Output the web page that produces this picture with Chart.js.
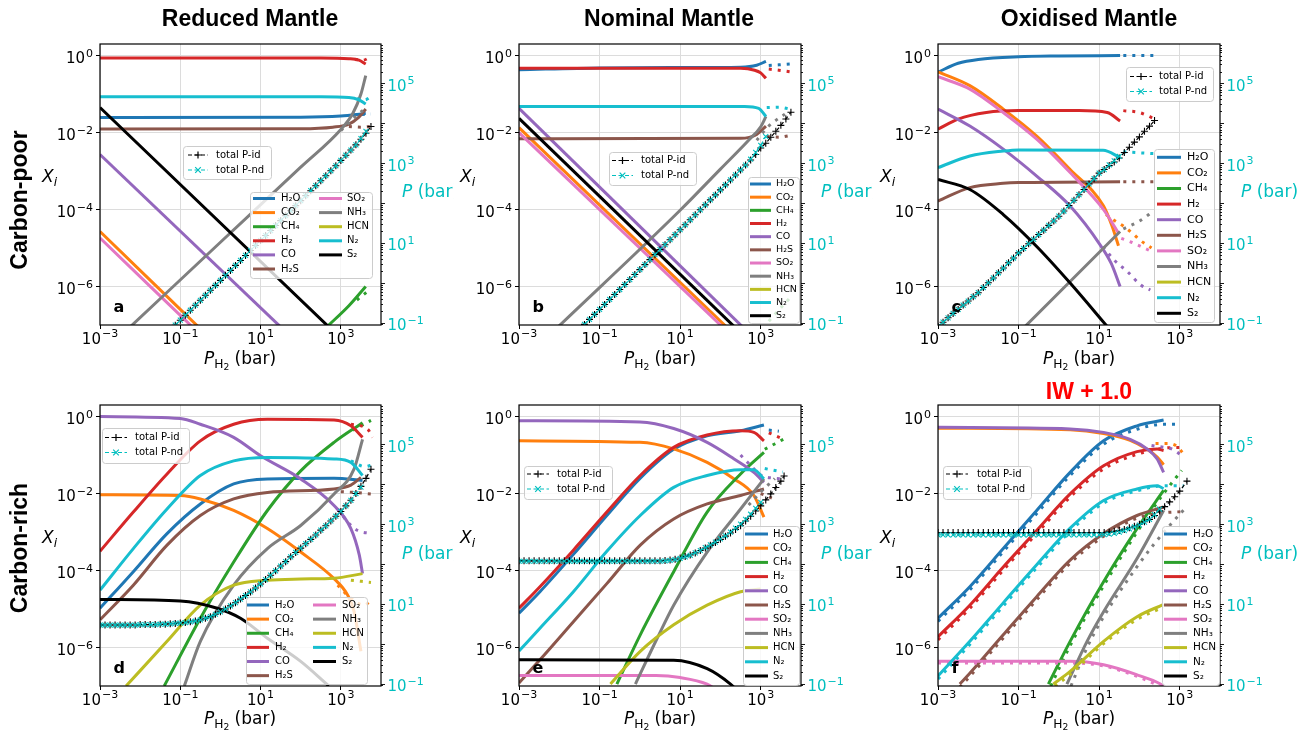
<!DOCTYPE html>
<html>
<head>
<meta charset="utf-8">
<title>Speciation vs P_H2</title>
<script src="https://cdn.jsdelivr.net/npm/chart.js@4.4.1/dist/chart.umd.min.js"></script>
<style>
html,body{margin:0;padding:0;background:#fff;}
#root{position:relative;width:1313px;height:735px;overflow:hidden;background:#fff;font-family:'DejaVu Sans',sans-serif;color:#000;}
.panel{position:absolute;overflow:hidden;}
.panel canvas{position:absolute;left:0;top:0;}
.t{position:absolute;white-space:nowrap;line-height:1;}
.title{font-family:'Liberation Sans',Arial,sans-serif;font-weight:bold;font-size:23px;transform:translateX(-50%);}
.row{font-family:'Liberation Sans',Arial,sans-serif;font-weight:bold;font-size:23px;transform:translate(-50%,-50%) rotate(-90deg);}
.lab{font-size:17px;font-family:'DejaVu Sans',sans-serif;}
.xl{transform:translateX(-50%);}
.sub{font-size:72%;position:relative;top:0.32em;}
.sub2{font-size:75%;position:relative;top:0.2em;}
.pbar{color:#00bfbf;}
</style>
</head>
<body>
<div id="root"></div>
<script>
// ---------------- axis ranges and ticks ----------------
const xRange = [1e-3, 1e4];
const yRange = [1e-7, 2];
const pRange = [0.087, 9.8e5];
const xTicks = [1e-3, 1e-1, 1e1, 1e3];
const xTickExps = ['−3', '−1', '1', '3'];
const yTicks = [1e-6, 1e-4, 1e-2, 1];
const yTickExps = ['−6', '−4', '−2', '0'];
const pTicks = [1e-1, 1e1, 1e3, 1e5];
const pTickExps = ['−1', '1', '3', '5'];

const species = ['H₂O', 'CO₂', 'CH₄', 'H₂', 'CO', 'H₂S', 'SO₂', 'NH₃', 'HCN', 'N₂', 'S₂'];
const speciesColors = ['#1f77b4', '#ff7f0e', '#2ca02c', '#d62728', '#9467bd', '#8c564b', '#e377c2', '#7f7f7f', '#bcbd22', '#17becf', '#000000'];
const totalLabels = ['total P-id', 'total P-nd'];
const totalColors = ['#000000', '#00bfbf'];
const columnTitles = ['Reduced Mantle', 'Nominal Mantle', 'Oxidised Mantle'];
const rowTitles = ['Carbon-poor', 'Carbon-rich'];
const panelLetters = ['a', 'b', 'c', 'd', 'e', 'f'];
const extraTitle = 'IW + 1.0';

// ---------------- data: [log10 P_H2, log10 X_i] ----------------
// panel a : carbon-poor, reduced
const a_H2O = [[-3,-1.61],[2,-1.6],[3,-1.57],[3.4,-1.53],[3.62,-1.5]];
const a_CO2 = [[-3,-4.57],[-0.4,-7.2]];
const a_CH4 = [[2.65,-7.05],[3.2,-6.5],[3.62,-6.0]];
const a_H2 = [[-3,-0.06],[2.5,-0.06],[3.2,-0.08],[3.45,-0.12],[3.62,-0.22]];
const a_CO = [[-3,-2.57],[1.6,-7.15]];
const a_H2S = [[-3,-1.91],[2,-1.9],[2.8,-1.86],[3.2,-1.78],[3.45,-1.6],[3.62,-1.39]];
const a_SO2 = [[-3,-4.74],[-0.6,-7.15]];
const a_NH3 = [[-2.3,-7.1],[0,-4.85],[2,-2.9],[3,-1.92],[3.3,-1.5],[3.5,-1.0],[3.62,-0.52]];
const a_HCN = [];
const a_N2 = [[-3,-1.07],[2.5,-1.07],[3.2,-1.09],[3.45,-1.15],[3.62,-1.26]];
const a_S2 = [[-3,-1.35],[2.7,-7.05]];
const a_H2O_nd = [[3.3,-1.55],[3.5,-1.53],[3.75,-1.52]];
const a_CH4_nd = [[3.4,-6.35],[3.7,-6.1]];
const a_H2_nd = [[3.35,-0.1],[3.55,-0.12],[3.72,-0.05]];
const a_H2S_nd = [[3.2,-1.84],[3.5,-1.86],[3.75,-1.84]];
const a_NH3_nd = [[3.0,-1.95],[3.35,-1.6],[3.6,-1.38]];
const a_N2_nd = [[3.4,-1.12],[3.6,-1.15],[3.75,-1.07]];
const a_Px = [-1.25,-1.125,-1,-0.875,-0.75,-0.625,-0.5,-0.375,-0.25,-0.125,0,0.125,0.25,0.375,0.5,0.625,0.75,0.875,1,1.125,1.25,1.375,1.5,1.625,1.75,1.875,2,2.125,2.25,2.375,2.5,2.625,2.75,2.875,3,3.125,3.25,3.375,3.5,3.625,3.75];
const a_Pid = [-1.19,-1.065,-0.94,-0.815,-0.69,-0.565,-0.44,-0.315,-0.19,-0.065,0.06,0.185,0.31,0.435,0.56,0.685,0.81,0.935,1.06,1.185,1.31,1.435,1.56,1.685,1.81,1.935,2.06,2.185,2.31,2.435,2.56,2.685,2.81,2.935,3.07,3.2,3.33,3.46,3.6,3.75,3.92];
const a_Pnd = [-1.19,-1.065,-0.94,-0.815,-0.69,-0.565,-0.44,-0.315,-0.19,-0.065,0.06,0.185,0.31,0.435,0.56,0.685,0.81,0.935,1.06,1.185,1.31,1.435,1.56,1.685,1.81,1.935,2.06,2.185,2.31,2.435,2.56,2.685,2.81,2.935,3.07,3.2,3.33,3.46,3.62,3.8];

// panel b : carbon-poor, nominal
const b_H2O = [[-3,-0.37],[-1,-0.32],[1,-0.31],[2.5,-0.3],[2.9,-0.25],[3.13,-0.15]];
const b_CO2 = [[-3,-1.87],[2.2,-7.1]];
const b_CH4 = [];
const b_H2 = [[-3,-0.33],[2.5,-0.33],[2.85,-0.38],[3.0,-0.45],[3.13,-0.59]];
const b_CO = [[-3,-1.37],[2.6,-7.1]];
const b_H2S = [[-3,-2.16],[2.5,-2.15],[2.9,-2.05],[3.13,-1.83]];
const b_SO2 = [[-3,-2.0],[2.1,-7.1]];
const b_NH3 = [[-2.05,-7.07],[1,-4.02],[2,-2.95],[2.7,-2.2],[3.0,-1.85],[3.13,-1.58]];
const b_HCN = [];
const b_N2 = [[-3,-1.32],[2.6,-1.32],[2.95,-1.37],[3.13,-1.58]];
const b_S2 = [[-3,-1.63],[2.4,-7.1]];
const b_H2O_nd = [[3.2,-0.26],[3.45,-0.24],[3.72,-0.22]];
const b_H2_nd = [[3.2,-0.35],[3.45,-0.38],[3.72,-0.42]];
const b_N2_nd = [[3.15,-1.35],[3.45,-1.34],[3.72,-1.39]];
const b_H2S_nd = [[3.15,-2.1],[3.45,-2.12],[3.72,-2.08]];
const b_NH3_nd = [[2.9,-2.2],[3.2,-1.83],[3.6,-1.52]];
const b_CH4_nd = [[3.2,-6.9],[3.72,-6.3]];
const b_Px = [-1.5,-1.375,-1.25,-1.125,-1,-0.875,-0.75,-0.625,-0.5,-0.375,-0.25,-0.125,0,0.125,0.25,0.375,0.5,0.625,0.75,0.875,1,1.125,1.25,1.375,1.5,1.625,1.75,1.875,2,2.125,2.25,2.375,2.5,2.625,2.75,2.875,3,3.125,3.25,3.375,3.5,3.625,3.75];
const b_Pid = [-1.17,-1.045,-0.92,-0.795,-0.67,-0.545,-0.42,-0.295,-0.17,-0.045,0.08,0.205,0.33,0.455,0.58,0.705,0.83,0.955,1.08,1.205,1.33,1.455,1.58,1.705,1.83,1.955,2.08,2.205,2.33,2.455,2.58,2.705,2.83,2.955,3.08,3.22,3.38,3.5,3.65,3.8,3.95,4.11,4.28];
const b_Pnd = [-1.17,-1.045,-0.92,-0.795,-0.67,-0.545,-0.42,-0.295,-0.17,-0.045,0.08,0.205,0.33,0.455,0.58,0.705,0.83,0.955,1.08,1.205,1.33,1.455,1.58,1.705,1.83,1.955,2.08,2.205,2.33,2.455,2.58,2.705,2.83,2.955,3.1,3.27,3.45,3.67];

// panel c : carbon-poor, oxidised
const c_H2O = [[-3,-0.43],[-2.5,-0.2],[-2,-0.1],[-1,-0.03],[0,-0.01],[1.52,0]];
const c_CO2 = [[-3,-0.42],[-2.21,-0.78],[-1.38,-1.39],[-0.55,-2.09],[0.28,-2.96],[1.11,-3.91],[1.32,-4.43],[1.48,-4.94]];
const c_CH4 = [];
const c_H2 = [[-3,-1.91],[-2.5,-1.65],[-1.8,-1.48],[-1,-1.43],[0.5,-1.43],[1.2,-1.48],[1.52,-1.7]];
const c_CO = [[-3,-1.39],[-2.21,-1.83],[-1.38,-2.43],[-0.55,-3.13],[0.28,-3.91],[1.02,-4.91],[1.3,-5.4],[1.52,-6.0]];
const c_H2S = [[-3,-3.78],[-2.21,-3.43],[-1.38,-3.32],[-1,-3.3],[1.52,-3.28]];
const c_SO2 = [[-3,-0.55],[-2.21,-0.87],[-1.38,-1.48],[-0.55,-2.17],[0.28,-3.04],[1.11,-4.0],[1.48,-4.61]];
const c_NH3 = [[-0.85,-7.05],[1.52,-4.57]];
const c_HCN = [];
const c_N2 = [[-3,-2.91],[-2.21,-2.61],[-1.38,-2.48],[-1,-2.45],[1.1,-2.46],[1.52,-2.65]];
const c_S2 = [[-3,-3.22],[-2.21,-3.48],[-1.38,-4.13],[-0.55,-4.96],[0.28,-5.91],[1.25,-7.1]];
const c_H2O_nd = [[1.6,0],[2.4,0]];
const c_CO2_nd = [[1.17,-4.13],[1.4,-4.3],[1.6,-4.43],[1.82,-4.61],[2.02,-4.8],[2.3,-5.0]];
const c_H2_nd = [[1.6,-1.43],[2.0,-1.48],[2.39,-1.65]];
const c_CO_nd = [[1.1,-4.96],[1.36,-5.3],[1.7,-5.61],[2.03,-5.96],[2.27,-6.09]];
const c_H2S_nd = [[1.6,-3.28],[2.39,-3.28]];
const c_SO2_nd = [[1.55,-4.75],[1.8,-4.85],[2.3,-5.09]];
const c_NH3_nd = [[1.6,-4.5],[2.0,-4.3],[2.35,-4.04]];
const c_N2_nd = [[1.6,-2.5],[2.39,-2.55]];
const c_Px = [-3,-2.875,-2.75,-2.625,-2.5,-2.375,-2.25,-2.125,-2,-1.875,-1.75,-1.625,-1.5,-1.375,-1.25,-1.125,-1,-0.875,-0.75,-0.625,-0.5,-0.375,-0.25,-0.125,0,0.125,0.25,0.375,0.5,0.625,0.75,0.875,1,1.125,1.25,1.375,1.5,1.625,1.75,1.875,2,2.125,2.25,2.375];
const c_Pid = [-1.1,-0.99,-0.88,-0.77,-0.67,-0.56,-0.46,-0.35,-0.25,-0.12,0,0.12,0.25,0.37,0.5,0.62,0.75,0.86,0.98,1.09,1.21,1.32,1.44,1.55,1.67,1.8,1.94,2.07,2.21,2.34,2.48,2.61,2.75,2.84,2.94,3.03,3.13,3.27,3.4,3.53,3.66,3.8,3.93,4.07];
const c_Pnd = [-1.1,-0.99,-0.88,-0.77,-0.67,-0.56,-0.46,-0.35,-0.25,-0.12,0,0.12,0.25,0.37,0.5,0.62,0.75,0.86,0.98,1.09,1.21,1.32,1.44,1.55,1.67,1.8,1.94,2.07,2.21,2.34,2.48,2.61,2.75,2.84,2.96,3.06,3.17];

// panel d : carbon-rich, reduced
const d_H2O = [[-3,-4.98],[-2.17,-4.03],[-1.33,-3.04],[-0.5,-2.27],[0.33,-1.75],[1.17,-1.62],[2.83,-1.6],[3.54,-1.66]];
const d_CO2 = [[-3,-2.03],[-1,-2.05],[-0.5,-2.14],[0.33,-2.44],[1.17,-2.91],[2.0,-3.52],[2.83,-4.21],[3.17,-4.64],[3.33,-5.07],[3.5,-6.1]];
const d_CH4 = [[-1.4,-7.0],[-0.5,-5.24],[0.33,-3.78],[1.17,-2.44],[2.0,-1.41],[2.83,-0.67],[3.54,-0.16]];
const d_H2 = [[-3,-3.5],[-2.17,-2.48],[-1.33,-1.49],[-0.5,-0.63],[0.33,-0.2],[1.17,-0.07],[2.83,-0.09],[3.25,-0.24],[3.54,-0.54]];
const d_CO = [[-3,0],[-1,-0.05],[-0.5,-0.2],[0.33,-0.54],[1,-1.02],[2,-1.62],[2.83,-2.31],[3.25,-2.91],[3.46,-3.6],[3.54,-4.08]];
const d_H2S = [[-3,-5.28],[-2.17,-4.38],[-1.33,-3.34],[-0.5,-2.57],[0.33,-2.14],[1.17,-1.97],[2.83,-1.88],[3.25,-1.78],[3.5,-1.58]];
const d_SO2 = [];
const d_NH3 = [[-0.9,-7.0],[-0.5,-5.84],[0.33,-4.38],[1.17,-3.43],[2.0,-2.83],[2.83,-2.01],[3.33,-1.36],[3.54,-0.59]];
const d_HCN = [[-2.35,-7.0],[-1.33,-5.84],[-0.5,-4.9],[0.33,-4.38],[1.17,-4.25],[2.0,-4.22],[2.83,-4.2],[3.54,-4.08]];
const d_N2 = [[-3,-4.51],[-2.17,-3.43],[-1.33,-2.4],[-0.5,-1.53],[0.33,-1.15],[1.17,-1.06],[2.83,-1.1],[3.25,-1.19],[3.54,-1.53]];
const d_S2 = [[-3,-4.75],[-1,-4.79],[-0.08,-4.98],[0.5,-5.24],[1.17,-5.76],[2.0,-6.36],[2.7,-7.0]];
const d_CO_nd = [[2.92,-2.4],[3.17,-2.74],[3.42,-2.96],[3.79,-3.04]];
const d_H2_nd = [[3.25,-0.2],[3.67,-0.33],[3.79,-0.54]];
const d_N2_nd = [[3.25,-1.15],[3.6,-1.3],[3.79,-1.25]];
const d_H2S_nd = [[3.0,-1.95],[3.33,-1.97],[3.75,-2.01]];
const d_CO2_nd = [[2.92,-4.38],[3.25,-4.72],[3.58,-4.9],[3.79,-4.72]];
const d_HCN_nd = [[3.25,-4.25],[3.75,-4.31]];
const d_CH4_nd = [[3.3,-0.35],[3.75,-0.1]];
const d_Px = [-3,-2.875,-2.75,-2.625,-2.5,-2.375,-2.25,-2.125,-2,-1.875,-1.75,-1.625,-1.5,-1.375,-1.25,-1.125,-1,-0.875,-0.75,-0.625,-0.5,-0.375,-0.25,-0.125,0,0.125,0.25,0.375,0.5,0.625,0.75,0.875,1,1.125,1.25,1.375,1.5,1.625,1.75,1.875,2,2.125,2.25,2.375,2.5,2.625,2.75,2.875,3,3.125,3.25,3.375,3.5,3.625,3.75];
const d_Pid = [0.47,0.47,0.47,0.47,0.47,0.47,0.47,0.47,0.48,0.48,0.48,0.48,0.49,0.49,0.5,0.51,0.52,0.53,0.55,0.57,0.6,0.64,0.68,0.74,0.8,0.87,0.95,1.03,1.12,1.21,1.3,1.4,1.5,1.61,1.72,1.83,1.95,2.06,2.18,2.29,2.4,2.51,2.62,2.73,2.85,2.96,3.08,3.2,3.32,3.46,3.6,3.77,3.95,4.15,4.38];
const d_Pnd = [0.47,0.47,0.47,0.47,0.47,0.47,0.47,0.47,0.48,0.48,0.48,0.48,0.49,0.49,0.5,0.51,0.52,0.53,0.55,0.57,0.6,0.64,0.68,0.74,0.8,0.87,0.95,1.03,1.12,1.21,1.3,1.4,1.5,1.61,1.72,1.83,1.95,2.06,2.18,2.29,2.4,2.51,2.62,2.73,2.85,2.96,3.08,3.2,3.32,3.46,3.6,3.77,3.93];

// panel e : carbon-rich, nominal
const e_H2O = [[-3,-5.11],[-2.48,-4.55],[-1.65,-3.58],[-0.82,-2.57],[0.01,-1.6],[0.84,-0.85],[1.67,-0.5],[2.5,-0.37],[3.08,-0.22]];
const e_CO2 = [[-3,-0.63],[0,-0.67],[0.84,-0.84],[1.67,-1.19],[2.34,-1.62],[2.83,-2.05],[3.08,-2.61]];
const e_CH4 = [[-0.57,-6.95],[0.01,-5.67],[0.84,-4.03],[1.67,-2.48],[2.5,-1.49],[3.08,-0.93]];
const e_H2 = [[-3,-4.98],[-2.48,-4.42],[-1.65,-3.47],[-0.82,-2.48],[0.01,-1.53],[0.84,-0.8],[1.67,-0.48],[2.5,-0.37],[2.83,-0.41],[3.08,-0.63]];
const e_CO = [[-3,-0.11],[0,-0.14],[0.84,-0.31],[1.67,-0.67],[2.34,-1.1],[2.83,-1.45],[3.08,-1.71]];
const e_H2S = [[-3,-6.92],[-2.48,-6.32],[-1.65,-5.33],[-0.82,-4.34],[0.01,-3.34],[0.84,-2.66],[1.67,-2.27],[2.5,-2.05],[3.08,-1.88]];
const e_SO2 = [[-3,-6.73],[0.4,-6.73],[1.0,-6.78],[1.67,-6.95],[1.9,-7.1]];
const e_NH3 = [[-0.11,-6.95],[0.43,-5.76],[0.84,-4.9],[1.67,-3.52],[2.5,-2.4],[3.08,-1.62]];
const e_HCN = [[-0.73,-6.95],[0.01,-6.1],[0.84,-5.41],[1.67,-4.9],[2.5,-4.55],[3.0,-4.48]];
const e_N2 = [[-3,-6.09],[-2.48,-5.5],[-1.65,-4.55],[-0.82,-3.5],[0.01,-2.57],[0.84,-1.84],[1.67,-1.53],[2.5,-1.38],[2.83,-1.38],[3.08,-1.62]];
const e_S2 = [[-3,-6.32],[0.84,-6.33],[1.67,-6.55],[2.25,-6.95],[2.4,-7.1]];
const e_CO_nd = [[2.5,-1.0],[2.75,-1.27],[3.0,-1.52],[3.3,-1.6],[3.55,-1.62]];
const e_H2_nd = [[3.2,-0.42],[3.55,-0.58]];
const e_H2O_nd = [[3.2,-0.35],[3.45,-0.38]];
const e_N2_nd = [[3.1,-1.35],[3.55,-1.44]];
const e_H2S_nd = [[3.0,-2.0],[3.4,-2.17]];
const e_CH4_nd = [[3.1,-0.85],[3.58,-0.58]];
const e_NH3_nd = [[2.7,-2.3],[3.0,-1.96],[3.35,-1.61]];
const e_Px = [-3,-2.875,-2.75,-2.625,-2.5,-2.375,-2.25,-2.125,-2,-1.875,-1.75,-1.625,-1.5,-1.375,-1.25,-1.125,-1,-0.875,-0.75,-0.625,-0.5,-0.375,-0.25,-0.125,0,0.125,0.25,0.375,0.5,0.625,0.75,0.875,1,1.125,1.25,1.375,1.5,1.625,1.75,1.875,2,2.125,2.25,2.375,2.5,2.625,2.75,2.875,3,3.125,3.25,3.375,3.5,3.58];
const e_Pid = [2.08,2.08,2.08,2.08,2.08,2.08,2.08,2.08,2.08,2.08,2.08,2.08,2.08,2.08,2.08,2.08,2.08,2.08,2.08,2.08,2.08,2.08,2.08,2.08,2.08,2.08,2.08,2.08,2.08,2.09,2.1,2.12,2.15,2.19,2.23,2.28,2.34,2.4,2.47,2.54,2.62,2.7,2.78,2.87,2.96,3.08,3.2,3.33,3.46,3.61,3.76,3.92,4.08,4.21];
const e_Pnd = [2.07,2.07,2.07,2.07,2.07,2.07,2.07,2.07,2.07,2.07,2.07,2.07,2.07,2.07,2.07,2.07,2.07,2.07,2.07,2.07,2.07,2.07,2.07,2.07,2.07,2.07,2.07,2.07,2.07,2.08,2.09,2.11,2.14,2.18,2.22,2.28,2.34,2.41,2.48,2.55,2.63,2.71,2.8,2.9,3.0,3.12,3.25,3.4,3.55];

// panel f : carbon-rich, oxidised
const f_H2O = [[-3,-5.24],[-2.21,-4.42],[-1.38,-3.43],[-0.55,-2.44],[0.28,-1.45],[1.11,-0.63],[1.94,-0.24],[2.6,-0.09]];
const f_CO2 = [[-3,-0.3],[0.28,-0.34],[1.11,-0.44],[1.77,-0.62],[2.19,-0.85],[2.44,-1.05],[2.6,-1.25]];
const f_CH4 = [[-0.26,-6.95],[0.28,-5.84],[1.11,-4.29],[1.94,-2.91],[2.6,-1.92]];
const f_H2 = [[-3,-5.72],[-2.21,-4.9],[-1.38,-3.91],[-0.55,-2.96],[0.28,-2.01],[1.11,-1.28],[1.94,-0.91],[2.44,-0.84],[2.6,-0.88]];
const f_CO = [[-3,-0.28],[0.28,-0.32],[1.11,-0.41],[1.77,-0.59],[2.19,-0.84],[2.44,-1.1],[2.6,-1.45]];
const f_H2S = [[-2.46,-6.95],[-2.21,-6.67],[-1.38,-5.67],[-0.55,-4.68],[0.28,-3.73],[1.11,-3.04],[1.94,-2.57],[2.6,-2.35]];
const f_SO2 = [[-3,-6.36],[0.28,-6.36],[1.11,-6.45],[1.94,-6.71],[2.52,-6.95],[2.7,-7.1]];
const f_NH3 = [[0.2,-6.95],[0.7,-5.84],[1.11,-5.07],[1.94,-3.69],[2.6,-2.44]];
const f_HCN = [[-0.14,-6.95],[0.28,-6.62],[1.11,-5.84],[1.94,-5.2],[2.6,-4.88]];
const f_N2 = [[-3,-6.74],[-2.21,-5.84],[-1.38,-4.84],[-0.55,-3.85],[0.28,-2.9],[1.11,-2.18],[1.94,-1.88],[2.44,-1.8],[2.6,-1.87]];
const f_S2 = [];
const f_H2O_nd = [[-3,-5.32],[-2.21,-4.5],[-1.38,-3.51],[-0.55,-2.52],[0.28,-1.53],[1.11,-0.72],[1.94,-0.33],[2.6,-0.2],[3.02,-0.2]];
const f_CO2_nd = [[2.4,-0.7],[2.7,-0.7],[2.9,-0.75],[3.1,-0.97]];
const f_CH4_nd = [[-0.2,-7.0],[0.28,-5.95],[1.11,-4.4],[1.94,-3.0],[2.6,-2.0],[3.05,-1.4]];
const f_H2_nd = [[-3,-5.8],[-2.21,-4.98],[-1.38,-3.99],[-0.55,-3.04],[0.28,-2.09],[1.11,-1.36],[1.94,-0.98],[2.6,-0.82],[3.05,-0.8]];
const f_CO_nd = [[2.3,-0.75],[2.6,-0.8],[2.8,-0.84],[3.1,-1.05]];
const f_H2S_nd = [[-2.46,-7.03],[-2.21,-6.75],[-1.38,-5.75],[-0.55,-4.76],[0.28,-3.81],[1.11,-3.11],[1.94,-2.64],[2.6,-2.5],[3.05,-2.47]];
const f_SO2_nd = [[-3,-6.4],[0.28,-6.4],[1.11,-6.48],[1.94,-6.75],[2.5,-7.0]];
const f_NH3_nd = [[0.3,-7.0],[0.7,-6.0],[1.11,-5.2],[1.94,-3.9],[2.35,-3.33],[2.76,-2.82],[3.13,-2.39]];
const f_HCN_nd = [[-0.1,-7.0],[0.28,-6.7],[1.11,-5.9],[1.94,-5.27],[2.6,-4.95]];
const f_N2_nd = [[-3,-6.82],[-2.21,-5.92],[-1.38,-4.92],[-0.55,-3.93],[0.28,-2.98],[1.11,-2.25],[1.94,-1.93],[2.6,-1.8],[3.1,-1.8]];
const f_Px = [-3,-2.875,-2.75,-2.625,-2.5,-2.375,-2.25,-2.125,-2,-1.875,-1.75,-1.625,-1.5,-1.375,-1.25,-1.125,-1,-0.875,-0.75,-0.625,-0.5,-0.375,-0.25,-0.125,0,0.125,0.25,0.375,0.5,0.625,0.75,0.875,1,1.125,1.25,1.375,1.5,1.625,1.75,1.875,2,2.125,2.25,2.375,2.5,2.625,2.75,2.875,3,3.18];
const f_Pid = [2.79,2.79,2.79,2.79,2.79,2.79,2.79,2.79,2.79,2.79,2.79,2.79,2.79,2.79,2.79,2.79,2.79,2.79,2.79,2.79,2.79,2.79,2.79,2.79,2.79,2.79,2.79,2.79,2.79,2.79,2.79,2.79,2.79,2.79,2.8,2.82,2.84,2.87,2.91,2.95,3.0,3.06,3.12,3.22,3.33,3.44,3.56,3.69,3.83,4.08];
const f_Pnd = [2.73,2.73,2.73,2.73,2.73,2.73,2.73,2.73,2.73,2.73,2.73,2.73,2.73,2.73,2.73,2.73,2.73,2.73,2.73,2.73,2.73,2.73,2.73,2.73,2.73,2.73,2.73,2.73,2.73,2.73,2.73,2.73,2.73,2.74,2.75,2.77,2.8,2.84,2.88,2.93,2.98,3.05,3.12,3.24,3.38];

// ---------------- tables built from the arrays ----------------
const E = [];
const panelData = {
  a: {solid:[a_H2O,a_CO2,a_CH4,a_H2,a_CO,a_H2S,a_SO2,a_NH3,a_HCN,a_N2,a_S2],
      dotted:[a_H2O_nd,E,a_CH4_nd,a_H2_nd,E,a_H2S_nd,E,a_NH3_nd,E,a_N2_nd,E], Px:a_Px, Pid:a_Pid, Pnd:a_Pnd},
  b: {solid:[b_H2O,b_CO2,b_CH4,b_H2,b_CO,b_H2S,b_SO2,b_NH3,b_HCN,b_N2,b_S2],
      dotted:[b_H2O_nd,E,b_CH4_nd,b_H2_nd,E,b_H2S_nd,E,b_NH3_nd,E,b_N2_nd,E], Px:b_Px, Pid:b_Pid, Pnd:b_Pnd},
  c: {solid:[c_H2O,c_CO2,c_CH4,c_H2,c_CO,c_H2S,c_SO2,c_NH3,c_HCN,c_N2,c_S2],
      dotted:[c_H2O_nd,c_CO2_nd,E,c_H2_nd,c_CO_nd,c_H2S_nd,c_SO2_nd,c_NH3_nd,E,c_N2_nd,E], Px:c_Px, Pid:c_Pid, Pnd:c_Pnd},
  d: {solid:[d_H2O,d_CO2,d_CH4,d_H2,d_CO,d_H2S,d_SO2,d_NH3,d_HCN,d_N2,d_S2],
      dotted:[E,d_CO2_nd,d_CH4_nd,d_H2_nd,d_CO_nd,d_H2S_nd,E,E,d_HCN_nd,d_N2_nd,E], Px:d_Px, Pid:d_Pid, Pnd:d_Pnd},
  e: {solid:[e_H2O,e_CO2,e_CH4,e_H2,e_CO,e_H2S,e_SO2,e_NH3,e_HCN,e_N2,e_S2],
      dotted:[e_H2O_nd,E,e_CH4_nd,e_H2_nd,e_CO_nd,e_H2S_nd,E,e_NH3_nd,E,e_N2_nd,E], Px:e_Px, Pid:e_Pid, Pnd:e_Pnd},
  f: {solid:[f_H2O,f_CO2,f_CH4,f_H2,f_CO,f_H2S,f_SO2,f_NH3,f_HCN,f_N2,f_S2],
      dotted:[f_H2O_nd,f_CO2_nd,f_CH4_nd,f_H2_nd,f_CO_nd,f_H2S_nd,f_SO2_nd,f_NH3_nd,f_HCN_nd,f_N2_nd,E], Px:f_Px, Pid:f_Pid, Pnd:f_Pnd},
};

// ---------------- layout (page pixels) ----------------
const frames = {
  a:{left:0,top:30,w:454,h:350,plot:[100,44,381,325]},
  b:{left:454,top:30,w:419,h:350,plot:[519,44,801,325]},
  c:{left:873,top:30,w:440,h:350,plot:[938,44,1220,325]},
  d:{left:0,top:390,w:454,h:345,plot:[100,405,381,686]},
  e:{left:454,top:390,w:419,h:345,plot:[519,405,801,686]},
  f:{left:873,top:390,w:440,h:345,plot:[938,405,1220,686]},
};
const legendLayout = {
  a:{total:{box:[183,146,88,33],rows:[155,170],h:[188,208],t:216,font:10},
     spec:{box:[250,192,122,86],y0:198.5,dy:14.1,cols:[[253,275,281,6],[319,342,347,5]],font:10}},
  b:{total:{box:[609,152,87,33],rows:[160.5,175.5],h:[612,633],t:641,font:10},
     spec:{box:[748,177,51,146],y0:184,dy:13.17,cols:[[750,771,776,11]],font:9.5}},
  c:{total:{box:[1126,67,87,34],rows:[76.5,91.5],h:[1130,1152],t:1159,font:10},
     spec:{box:[1154,149,60,173],y0:157.3,dy:15.6,cols:[[1157,1181,1187,11]],font:11}},
  d:{total:{box:[102,428,87,35],rows:[437.5,452.5],h:[105,127],t:135,font:10},
     spec:{box:[246,597,121,87],y0:605,dy:14.13,cols:[[247,269,275,6],[313,336,342,5]],font:10}},
  e:{total:{box:[524,466,88,33],rows:[474,489],h:[527,549],t:557,font:10},
     spec:{box:[743,526,56,159],y0:534,dy:14.2,cols:[[745,768,773,11]],font:10}},
  f:{total:{box:[943,466,88,33],rows:[474,489],h:[946,968],t:977,font:10},
     spec:{box:[1162,526,57,159],y0:534,dy:14.2,cols:[[1164,1187,1193,11]],font:10.5}},
};

Chart.defaults.font.family = "'DejaVu Sans', sans-serif";
Chart.defaults.animation = false;

const toPts = arr => arr.map(([lx, ly]) => ({x: Math.pow(10, lx), y: Math.pow(10, ly)}));
const zipP = (xs, ys) => ys.filter((_, i) => i < xs.length).map((ly, i) => ({x: Math.pow(10, xs[i]), y: Math.pow(10, ly)}));

function roundRect(ctx, x, y, w, h, r) {
  ctx.beginPath();
  ctx.moveTo(x + r, y);
  ctx.arcTo(x + w, y, x + w, y + h, r);
  ctx.arcTo(x + w, y + h, x, y + h, r);
  ctx.arcTo(x, y + h, x, y, r);
  ctx.arcTo(x, y, x + w, y, r);
  ctx.closePath();
}
function drawMarker(ctx, kind, x, y, r) {
  ctx.beginPath();
  if (kind === 0) { ctx.moveTo(x - r, y); ctx.lineTo(x + r, y); ctx.moveTo(x, y - r); ctx.lineTo(x, y + r); }
  else { const q = r * 0.8; ctx.moveTo(x - q, y - q); ctx.lineTo(x + q, y + q); ctx.moveTo(x - q, y + q); ctx.lineTo(x + q, y - q); }
  ctx.stroke();
}
// "10" with a raised exponent, like a math-text tick label
function drawPow(ctx, exp, x, y, align, color) {
  ctx.fillStyle = color;
  ctx.textAlign = 'left'; ctx.textBaseline = 'alphabetic';
  ctx.font = '15px "DejaVu Sans"';
  const wb = ctx.measureText('10').width;
  ctx.font = '11px "DejaVu Sans"';
  const we = ctx.measureText(exp).width;
  const tw = wb + 1 + we;
  const x0 = align === 'right' ? x - tw : (align === 'center' ? x - tw / 2 : x);
  ctx.font = '15px "DejaVu Sans"'; ctx.fillText('10', x0, y);
  ctx.font = '11px "DejaVu Sans"'; ctx.fillText(exp, x0 + wb + 1, y - 6.5);
}

function panelPlugin(key, letter) {
  const fr = frames[key], lg = legendLayout[key];
  const ox = fr.left, oy = fr.top;
  return {
    id: 'deco_' + key,
    afterDraw(chart) {
      const ctx = chart.ctx, a = chart.chartArea;
      const sx = chart.scales.x, sy = chart.scales.y, y2 = chart.scales.y2;
      ctx.save();
      // frame
      ctx.strokeStyle = '#000'; ctx.lineWidth = 1.2;
      ctx.strokeRect(a.left, a.top, a.right - a.left, a.bottom - a.top);
      // right axis ticks (major + minor) placed by the scale
      ctx.lineWidth = 0.9;
      for (let d = -2; d <= 6; d++) for (let k = 1; k <= 9; k++) {
        const v = k * Math.pow(10, d);
        if (v < y2.min || v > y2.max) continue;
        const py = Math.round(y2.getPixelForValue(v)) + 0.5;
        ctx.beginPath(); ctx.moveTo(a.right, py); ctx.lineTo(a.right + (k === 1 ? 4 : 2), py); ctx.stroke();
      }
      // tick labels
      xTicks.forEach((v, i) => drawPow(ctx, xTickExps[i], sx.getPixelForValue(v), a.bottom + 18.5, 'center', '#000'));
      yTicks.forEach((v, i) => drawPow(ctx, yTickExps[i], a.left - 7, sy.getPixelForValue(v) + 7.5, 'right', '#000'));
      pTicks.forEach((v, i) => drawPow(ctx, pTickExps[i], a.right + 6.5, y2.getPixelForValue(v) + 7.5, 'left', '#00bfbf'));
      // panel letter
      ctx.fillStyle = '#000'; ctx.font = 'bold 16px "DejaVu Sans"';
      ctx.textAlign = 'left'; ctx.textBaseline = 'alphabetic';
      ctx.fillText(letter, a.left + 13.5, a.bottom - 13);
      // total-pressure legend
      const T = lg.total;
      roundRect(ctx, T.box[0] - ox + 0.5, T.box[1] - oy + 0.5, T.box[2], T.box[3], 3);
      ctx.fillStyle = 'rgba(255,255,255,0.8)'; ctx.fill();
      ctx.strokeStyle = '#cccccc'; ctx.lineWidth = 1; ctx.stroke();
      ctx.font = T.font + 'px "DejaVu Sans"'; ctx.textBaseline = 'middle';
      totalLabels.forEach((lab, i) => {
        const y = T.rows[i] - oy, x0 = T.h[0] - ox, x1 = T.h[1] - ox;
        ctx.strokeStyle = totalColors[i]; ctx.lineWidth = 1.2;
        ctx.setLineDash([4, 2.5]);
        ctx.beginPath(); ctx.moveTo(x0, y); ctx.lineTo(x1, y); ctx.stroke();
        ctx.setLineDash([]);
        drawMarker(ctx, i, (x0 + x1) / 2, y, 3.5);
        ctx.fillStyle = '#000'; ctx.fillText(lab, T.t - ox, y);
      });
      // species legend
      const S = lg.spec;
      roundRect(ctx, S.box[0] - ox + 0.5, S.box[1] - oy + 0.5, S.box[2], S.box[3], 3);
      ctx.fillStyle = 'rgba(255,255,255,0.8)'; ctx.fill();
      ctx.strokeStyle = '#cccccc'; ctx.lineWidth = 1; ctx.stroke();
      ctx.font = S.font + 'px "DejaVu Sans"'; ctx.textBaseline = 'middle';
      let idx = 0;
      S.cols.forEach(([h0, h1, tx, n]) => {
        for (let r = 0; r < n; r++, idx++) {
          const y = S.y0 + r * S.dy - oy;
          ctx.strokeStyle = speciesColors[idx]; ctx.lineWidth = 3;
          ctx.beginPath(); ctx.moveTo(h0 - ox, y); ctx.lineTo(h1 - ox, y); ctx.stroke();
          ctx.fillStyle = '#000'; ctx.fillText(species[idx], tx - ox, y);
        }
      });
      ctx.restore();
    }
  };
}

const root = document.getElementById('root');
function addText(parent, html, cls, left, top) {
  const el = document.createElement('div');
  el.className = 't ' + cls;
  el.innerHTML = html;
  el.style.left = left + 'px'; el.style.top = top + 'px';
  parent.appendChild(el);
  return el;
}

const keys = ['a','b','c','d','e','f'];
keys.forEach((key, pi) => {
  const fr = frames[key];
  const [pl, pt, pr, pb] = fr.plot;
  const L = pl - fr.left, Tp = pt - fr.top, R = fr.left + fr.w - pr, B = fr.top + fr.h - pb;
  const wrap = document.createElement('div');
  wrap.className = 'panel';
  Object.assign(wrap.style, {left: fr.left + 'px', top: fr.top + 'px', width: fr.w + 'px', height: fr.h + 'px'});
  const cv = document.createElement('canvas');
  cv.width = fr.w; cv.height = fr.h;
  cv.style.width = fr.w + 'px'; cv.style.height = fr.h + 'px';
  wrap.appendChild(cv);
  root.appendChild(wrap);

  const pd = panelData[key];
  const datasets = [];
  species.forEach((name, i) => {
    if (pd.solid[i].length) datasets.push({
      label: name, data: toPts(pd.solid[i]), yAxisID: 'y',
      borderColor: speciesColors[i], backgroundColor: speciesColors[i], borderWidth: 3,
      pointRadius: 0, cubicInterpolationMode: 'monotone', clip: 0, order: 100 - 2 * i
    });
    if (pd.dotted[i].length) datasets.push({
      label: name + ' (nd)', data: toPts(pd.dotted[i]), yAxisID: 'y',
      borderColor: speciesColors[i], backgroundColor: speciesColors[i], borderWidth: 3,
      borderDash: [3, 6], pointRadius: 0, cubicInterpolationMode: 'monotone', clip: 0, order: 100 - 2 * i - 1
    });
  });
  datasets.push({
    label: totalLabels[0], data: zipP(pd.Px, pd.Pid), yAxisID: 'y2',
    borderColor: totalColors[0], borderWidth: 1.2, borderDash: [4, 3],
    pointStyle: 'cross', pointRadius: 3.5, pointBorderWidth: 1.1,
    pointBorderColor: totalColors[0], pointBackgroundColor: totalColors[0], clip: 0, order: 2
  });
  datasets.push({
    label: totalLabels[1], data: zipP(pd.Px, pd.Pnd), yAxisID: 'y2',
    borderColor: totalColors[1], borderWidth: 1.2, borderDash: [4, 3],
    pointStyle: 'crossRot', pointRadius: 3.5, pointBorderWidth: 1.1,
    pointBorderColor: totalColors[1], pointBackgroundColor: totalColors[1], clip: 0, order: 1
  });

  new Chart(cv, {
    type: 'line',
    data: {datasets},
    plugins: [panelPlugin(key, panelLetters[pi])],
    options: {
      responsive: false, devicePixelRatio: 1, animation: false, events: [],
      layout: {padding: {top: Tp, left: 0, right: 0, bottom: 0}},
      plugins: {legend: {display: false}, tooltip: {enabled: false}},
      scales: {
        x: {
          type: 'logarithmic', position: 'bottom', min: xRange[0], max: xRange[1],
          afterBuildTicks: s => { s.ticks = xTicks.map(v => ({value: v})); },
          afterFit: s => { s.height = B; },
          ticks: {display: false, autoSkip: false},
          grid: {color: '#dcdcdc', lineWidth: 1, drawTicks: true, tickLength: 4, tickColor: '#000', tickWidth: 1},
          border: {display: false}
        },
        y: {
          type: 'logarithmic', position: 'left', min: yRange[0], max: yRange[1],
          afterBuildTicks: s => { s.ticks = yTicks.map(v => ({value: v})); },
          afterFit: s => { s.width = L; },
          ticks: {display: false, autoSkip: false},
          grid: {color: '#dcdcdc', lineWidth: 1, drawTicks: true, tickLength: 4, tickColor: '#000', tickWidth: 1},
          border: {display: false}
        },
        y2: {
          type: 'logarithmic', position: 'right', min: pRange[0], max: pRange[1],
          afterBuildTicks: s => { s.ticks = pTicks.map(v => ({value: v})); },
          afterFit: s => { s.width = R; },
          ticks: {display: false, autoSkip: false},
          grid: {drawOnChartArea: false, drawTicks: false},
          border: {display: false}
        }
      }
    }
  });

  // axis titles inside the panel wrapper (clipped like the original)
  const row = pi < 3 ? 0 : 1;
  const xiTop = row === 0 ? 168 : 529;
  const pTop = row === 0 ? 183 : 545;
  const xiLeft = [42, 460, 880][pi % 3];
  const pLeft = [402, 821, 1241][pi % 3];
  addText(wrap, '<i>X</i><span class="sub"><i>i</i></span>', 'lab', xiLeft - fr.left, xiTop - fr.top);
  addText(wrap, '<i>P</i> (bar)', 'lab pbar', pLeft - fr.left, pTop - fr.top);
  const xtTop = row === 0 ? 350 : 710;
  const xtCenter = [240, 660, 1079][pi % 3];
  addText(root, '<i>P</i><span class="sub">H<span class="sub2">2</span></span> (bar)', 'lab xl', xtCenter, xtTop);
});

// figure titles
[250, 669, 1089].forEach((cx, i) => addText(root, columnTitles[i], 'title', cx, 7));
addText(root, rowTitles[0], 'row', 18.5, 200);
addText(root, rowTitles[1], 'row', 18.5, 548);
const iw = addText(root, extraTitle, 'title', 1089, 380);
iw.style.color = '#ff0000';
</script>
</body>
</html>
